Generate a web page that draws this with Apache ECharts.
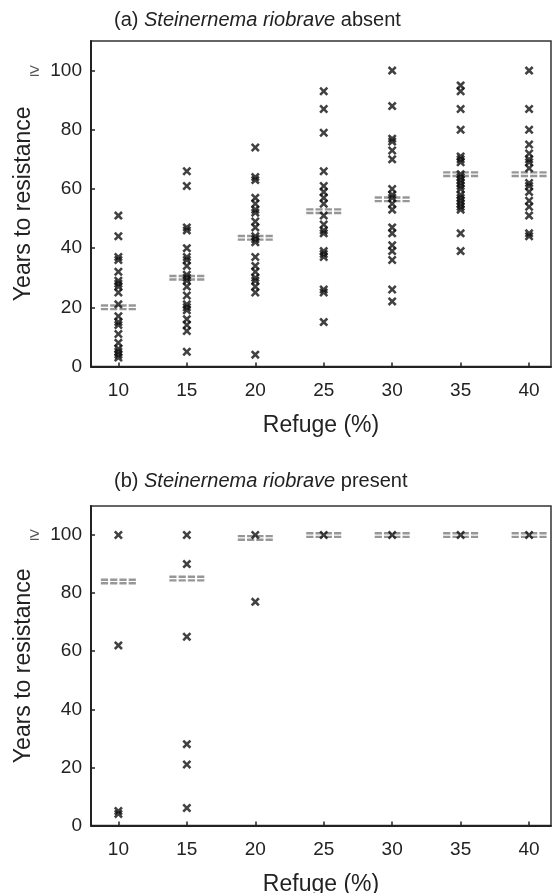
<!DOCTYPE html>
<html>
<head>
<meta charset="utf-8">
<script src="https://cdn.jsdelivr.net/npm/echarts@6/dist/echarts.min.js"></script>
<style>
html, body { margin: 0; padding: 0; background: #fff; }
#chart { width: 555px; height: 893px; }
</style>
</head>
<body>
<div id="chart"></div>
<script>
// refuge levels (%) on the x axis
const refuge = [10, 15, 20, 25, 30, 35, 40];

// (a) S. riobrave absent - years to resistance, one array per refuge level
const absent10 = [51, 44, 37, 36, 32, 29, 28, 27, 25, 21, 17, 15, 14, 11, 8, 6, 5, 4, 3];
const absent15 = [66, 61, 47, 46, 40, 37, 36, 34, 31, 30, 29, 27, 24, 21, 20, 19, 16, 14, 12, 5];
const absent20 = [74, 64, 63, 57, 55, 53, 52, 49, 47, 44, 43, 42, 37, 34, 32, 30, 29, 27, 25, 4];
const absent25 = [93, 87, 79, 66, 61, 59, 57, 55, 51, 48, 46, 45, 39, 38, 37, 26, 25, 15];
const absent30 = [100, 88, 77, 76, 73, 70, 60, 58, 57, 55, 53, 47, 45, 41, 39, 36, 26, 22];
const absent35 = [95, 93, 87, 80, 71, 70, 69, 65, 64, 63, 62, 61, 60, 58, 57, 56, 55, 54, 53, 45, 39];
const absent40 = [100, 87, 80, 75, 72, 70, 69, 67, 62, 61, 59, 56, 54, 51, 45, 44];
const absentMeans = [20, 30, 43.5, 52.5, 56.5, 65, 65];

// (b) S. riobrave present
const present10 = [100, 62, 5, 4];
const present15 = [100, 90, 65, 28, 21, 6];
const present20 = [100, 77];
const present25 = [100];
const present30 = [100];
const present35 = [100];
const present40 = [100];
const presentMeans = [84, 85, 99, 100, 100, 100, 100];

const font = '"Liberation Sans", Arial, Helvetica, sans-serif';
const ink = '#222';

// filled "x" mark
const crossSymbol = 'path://M0,2L2,0L5,3L8,0L10,2L7,5L10,8L8,10L5,7L2,10L0,8L3,5Z';

// the "====" mean mark: 4 short dashes on two rows
function meanSymbol() {
  let p = '';
  for (let i = 0; i < 4; i++) {
    const x = i * 9;
    p += 'M' + x + ',0L' + (x + 7) + ',0L' + (x + 7) + ',2.4L' + x + ',2.4Z';
    p += 'M' + x + ',3.6L' + (x + 7) + ',3.6L' + (x + 7) + ',6L' + x + ',6Z';
  }
  return 'path://' + p;
}

function toPoints(cols) {
  const out = [];
  cols.forEach((vals, i) => vals.forEach(v => out.push([refuge[i], v])));
  return out;
}

function xAxisFor(gridIndex) {
  return {
    type: 'value',
    gridIndex: gridIndex,
    min: 8,
    max: 41.6,
    name: 'Refuge (%)',
    nameLocation: 'middle',
    nameGap: 48,
    nameMoveOverlap: false,
    nameTextStyle: { fontSize: 23, color: ink, fontFamily: font },
    axisLine: { onZero: false, lineStyle: { color: ink, width: 2 } },
    axisTick: { inside: true, length: 4, customValues: refuge, lineStyle: { color: ink, width: 1.5 } },
    axisLabel: { customValues: refuge, margin: 15, fontSize: 19, color: ink, fontFamily: font },
    splitLine: { show: false }
  };
}

function yAxisFor(gridIndex) {
  return {
    type: 'value',
    gridIndex: gridIndex,
    min: 0,
    max: 110,
    interval: 20,
    name: 'Years to resistance',
    nameLocation: 'middle',
    nameGap: 56,
    nameMoveOverlap: false,
    nameRotate: 90,
    nameTextStyle: { fontSize: 23, color: ink, fontFamily: font },
    axisLine: { onZero: false, lineStyle: { color: ink, width: 2 } },
    axisTick: { inside: true, length: 4, lineStyle: { color: ink, width: 1.5 } },
    axisLabel: {
      showMaxLabel: false,
      margin: 9,
      fontSize: 19,
      color: ink,
      fontFamily: font,
      formatter: function (v) { return v === 100 ? '{ge|≥}  100' : String(v); },
      rich: { ge: { fontSize: 18, color: '#555', fontFamily: font } }
    },
    splitLine: { show: false }
  };
}

function titleFor(text, top) {
  return {
    text: text,
    left: 114,
    top: top,
    padding: 0,
    textStyle: {
      fontSize: 20,
      fontWeight: 'normal',
      color: ink,
      fontFamily: font,
      rich: {
        n: { fontSize: 20, color: ink, fontFamily: font },
        i: { fontSize: 20, color: ink, fontFamily: font, fontStyle: 'italic' }
      }
    }
  };
}

const chart = echarts.init(document.getElementById('chart'));
chart.setOption({
  animation: false,
  backgroundColor: '#fff',
  title: [
    titleFor('{n|(a)} {i|Steinernema riobrave} {n|absent}', 10),
    titleFor('{n|(b)} {i|Steinernema riobrave} {n|present}', 471)
  ],
  grid: [
    { left: 91, right: 4, top: 41, height: 325.5, outerBoundsMode: 'none', show: true, borderColor: '#333', borderWidth: 1.5 },
    { left: 91, right: 4, top: 506, height: 319.5, outerBoundsMode: 'none', show: true, borderColor: '#333', borderWidth: 1.5 }
  ],
  xAxis: [xAxisFor(0), xAxisFor(1)],
  yAxis: [yAxisFor(0), yAxisFor(1)],
  series: [
    {
      type: 'scatter', xAxisIndex: 0, yAxisIndex: 0, silent: true, z: 2,
      symbol: meanSymbol(), symbolSize: [35, 6],
      itemStyle: { color: '#7d7d7d' },
      data: absentMeans.map((m, i) => [refuge[i], m])
    },
    {
      type: 'scatter', xAxisIndex: 0, yAxisIndex: 0, silent: true, z: 3,
      symbol: crossSymbol, symbolSize: 9,
      itemStyle: { color: '#111' },
      data: toPoints([absent10, absent15, absent20, absent25, absent30, absent35, absent40])
    },
    {
      type: 'scatter', xAxisIndex: 1, yAxisIndex: 1, silent: true, z: 2,
      symbol: meanSymbol(), symbolSize: [35, 6],
      itemStyle: { color: '#7d7d7d' },
      data: presentMeans.map((m, i) => [refuge[i], m])
    },
    {
      type: 'scatter', xAxisIndex: 1, yAxisIndex: 1, silent: true, z: 3,
      symbol: crossSymbol, symbolSize: 9,
      itemStyle: { color: '#111' },
      data: toPoints([present10, present15, present20, present25, present30, present35, present40])
    }
  ]
});
</script>
</body>
</html>
